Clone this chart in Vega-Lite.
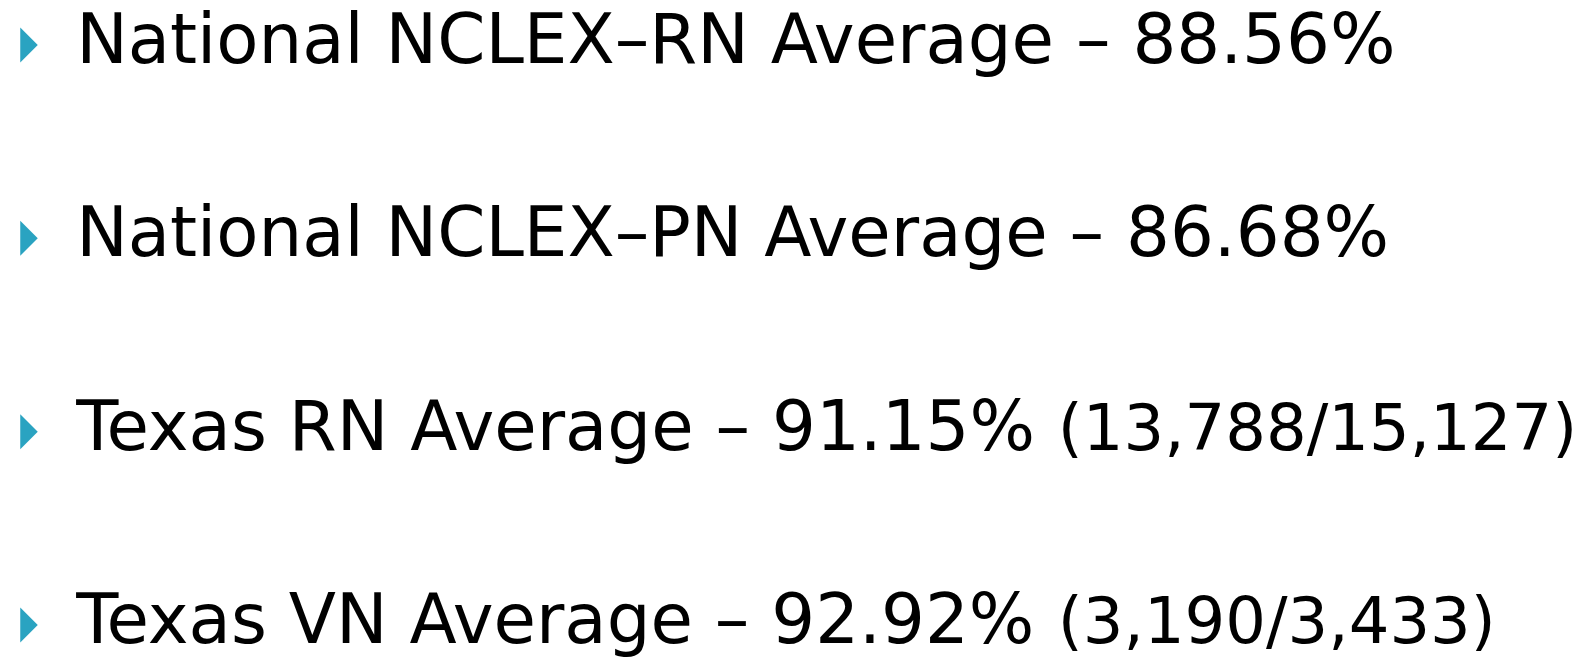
{
  "$schema": "https://vega.github.io/schema/vega-lite/v6.json",
  "autosize": {"type": "fit", "contains": "padding"},
  "width": 1586,
  "height": 658,
  "padding": 0,
  "background": "white",
  "config": {"view": {"stroke": null}},
  "data": {"values": [
    {"line": 1, "main": "National NCLEX–RN Average – 88.56%", "detail": ""},
    {"line": 2, "main": "National NCLEX–PN Average – 86.68%", "detail": ""},
    {"line": 3, "main": "Texas RN Average – 91.15%", "detail": "(13,788/15,127)"},
    {"line": 4, "main": "Texas VN Average – 92.92%", "detail": "(3,190/3,433)"}
  ]},
  "encoding": {
    "y": {"field": "line", "type": "quantitative", "scale": {"domain": [0.6741, 4.0776], "reverse": true, "zero": false, "nice": false}, "axis": null}
  },
  "layer": [
    {
      "mark": {"type": "point", "filled": true, "shape": "M -0.5 -1 L 0.5 0 L -0.5 1 Z", "size": 1225, "color": "#2AA3C1", "opacity": 1, "yOffset": -18},
      "encoding": {"x": {"datum": 1.83, "type": "quantitative", "scale": {"domain": [0, 100], "zero": false, "nice": false}, "axis": null}}
    },
    {
      "mark": {"type": "text", "align": "left", "baseline": "alphabetic", "font": "DejaVu Sans", "fontSize": 69, "color": "black"},
      "encoding": {"x": {"datum": 4.8, "type": "quantitative"}, "text": {"field": "main"}}
    },
    {
      "mark": {"type": "text", "align": "left", "baseline": "alphabetic", "font": "DejaVu Sans", "fontSize": 64, "color": "black"},
      "encoding": {"x": {"datum": 66.7, "type": "quantitative"}, "text": {"field": "detail"}}
    }
  ]
}
